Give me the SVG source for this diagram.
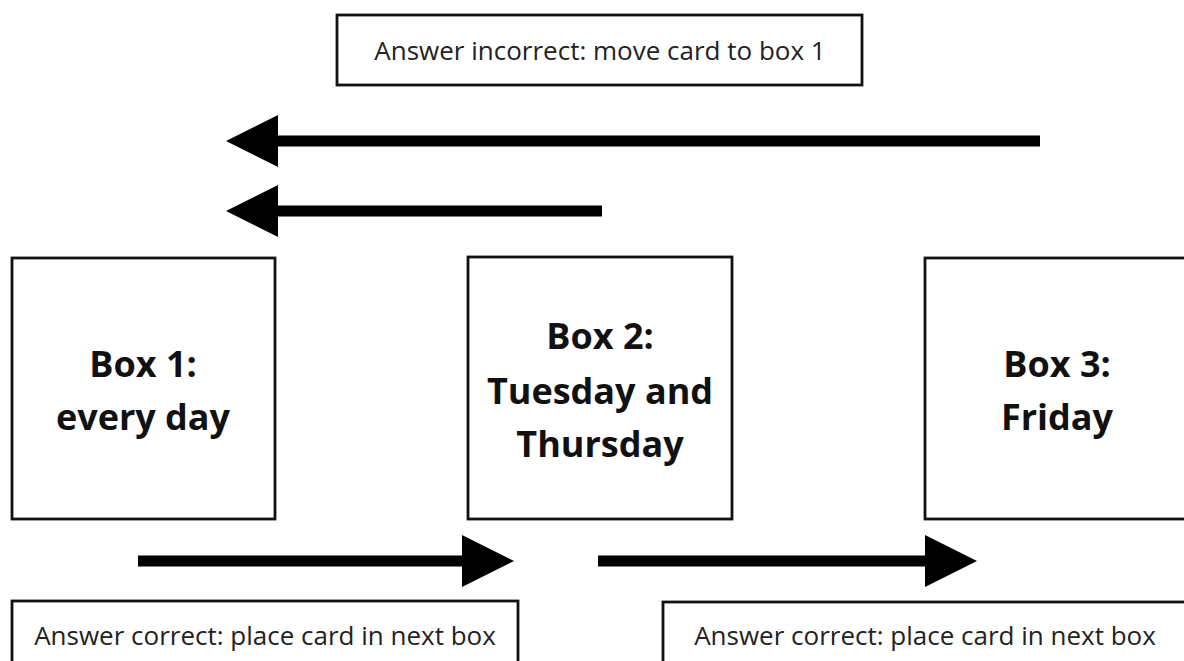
<svg xmlns="http://www.w3.org/2000/svg" width="1184" height="661" viewBox="0 0 1184 661">
<style>
.box{fill:#fff;stroke:#111;stroke-width:2.8}
.big{font-family:"Open Sans","Noto Sans",sans-serif;font-weight:bold;font-size:36px;fill:#111;text-anchor:middle}
.small{font-family:"Open Sans","Noto Sans",sans-serif;font-size:26px;fill:#222;text-anchor:middle}
.conn{stroke:#000;stroke-width:11;fill:none;marker-end:url(#head)}
</style>
<defs>
<marker id="head" markerUnits="userSpaceOnUse" markerWidth="52" markerHeight="52" refX="0" refY="26" orient="auto" viewBox="0 0 52 52">
<path d="M0,0 L52,26 L0,52 z" fill="#000"/>
</marker>
</defs>
<rect width="1184" height="661" fill="#fff"/>
<g id="incorrect-label">
<rect class="box" x="337" y="15" width="525" height="70"/>
<text class="small" x="600" y="60">Answer incorrect: move card to box 1</text>
</g>
<g id="box1">
<rect class="box" x="12" y="258" width="263" height="261"/>
<text class="big" x="143" y="377">Box 1:</text>
<text class="big" x="143" y="430">every day</text>
</g>
<g id="box2">
<rect class="box" x="468" y="257" width="264" height="262"/>
<text class="big" x="600" y="349">Box 2:</text>
<text class="big" x="600" y="404">Tuesday and</text>
<text class="big" x="600" y="457">Thursday</text>
</g>
<g id="box3">
<rect class="box" x="925" y="258" width="300" height="261"/>
<text class="big" x="1057" y="377">Box 3:</text>
<text class="big" x="1057" y="430">Friday</text>
</g>
<g id="correct-label-1">
<rect class="box" x="12" y="601" width="506" height="100"/>
<text class="small" x="265" y="645">Answer correct: place card in next box</text>
</g>
<g id="correct-label-2">
<rect class="box" x="663" y="602" width="600" height="100"/>
<text class="small" x="925" y="645">Answer correct: place card in next box</text>
</g>
<g id="connectors">
<path class="conn" d="M1040,141 H278"/>
<path class="conn" d="M602,211 H278"/>
<path class="conn" d="M138,561 H462"/>
<path class="conn" d="M598,561 H925"/>
</g>
</svg>
